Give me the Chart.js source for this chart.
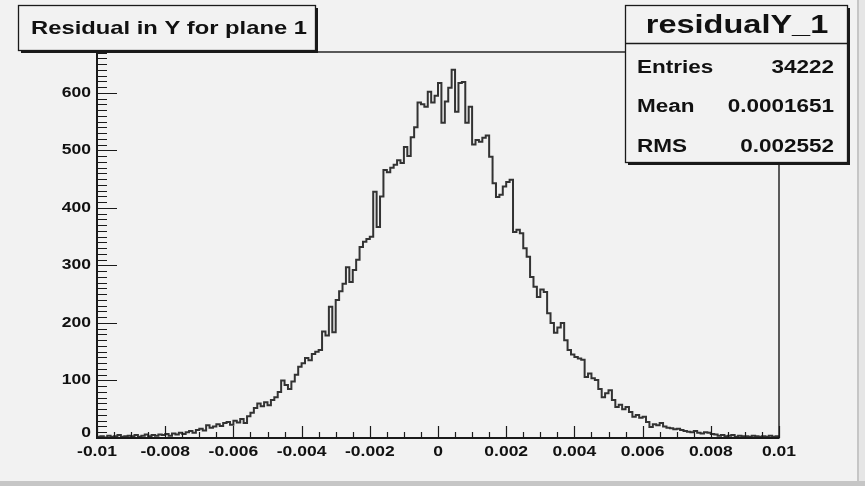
<!DOCTYPE html>
<html>
<head>
<meta charset="utf-8">
<script src="https://cdn.jsdelivr.net/npm/chart.js@4.4.1/dist/chart.umd.min.js"></script>
<style>
  html, body { margin: 0; padding: 0; background: #f2f2f2; }
  #wrap { width: 865px; height: 486px; }
  canvas { display: block; }
</style>
</head>
<body>
<div id="wrap"><canvas id="residual-y"></canvas></div>
<script>
// 200 bins between -0.01 and 0.01
const binCounts = [
  2, 3, 1, 4, 2, 3, 5, 2, 3, 4,
  3, 5, 2, 4, 6, 3, 5, 4, 6, 5,
  7, 4, 8, 6, 9, 7, 10, 12, 9, 14,
  16, 13, 22, 18, 20, 24, 21, 26, 28, 23,
  30, 27, 33, 26, 38, 44, 52, 60, 55, 62,
  57, 66, 71, 80, 100, 92, 85, 98, 110, 124,
  130, 139, 135, 146, 150, 153, 185, 178, 228, 184,
  240, 255, 268, 297, 271, 292, 310, 332, 341, 346,
  350, 428, 367, 420, 466, 462, 470, 475, 483, 478,
  506, 490, 523, 540, 583, 580, 576, 602, 583, 595,
  617, 548, 585, 609, 640, 567, 617, 619, 548, 576,
  510, 518, 515, 522, 526, 489, 443, 419, 423, 437,
  445, 449, 358, 362, 356, 330, 315, 280, 263, 245,
  258, 254, 217, 200, 183, 192, 200, 170, 153, 145,
  141, 138, 136, 106, 112, 104, 101, 85, 71, 78,
  83, 66, 54, 58, 50, 54, 45, 37, 40, 35,
  37, 28, 19, 24, 22, 26, 20, 18, 17, 15,
  16, 14, 12, 11, 10, 12, 9, 8, 10, 9,
  7, 6, 4, 5, 3, 4, 5, 2, 4, 3,
  3, 2, 4, 3, 2, 3, 2, 4, 2, 3
];
const xRange = [-0.01, 0.01];
const yMax = 671;

const xTickValues = [-0.01, -0.008, -0.006, -0.004, -0.002, 0, 0.002, 0.004, 0.006, 0.008, 0.01];
const xTickLabels = ['-0.01', '-0.008', '-0.006', '-0.004', '-0.002', '0', '0.002', '0.004', '0.006', '0.008', '0.01'];
const yTickValues = [0, 100, 200, 300, 400, 500, 600];
const yTickLabels = ['0', '100', '200', '300', '400', '500', '600'];

const histTitle = 'Residual in Y for plane 1';
const statsName = 'residualY_1';
const statsLabels = ['Entries', 'Mean', 'RMS'];
const statsValues = ['34222', '0.0001651', '0.002552'];

// left bin edges, plus the upper edge so the last bin gets its full width
const binWidth = (xRange[1] - xRange[0]) / binCounts.length;
const histPoints = binCounts.map((c, i) => ({ x: xRange[0] + i * binWidth, y: c }));
histPoints.push({ x: xRange[1], y: binCounts[binCounts.length - 1] });

const FONT = '"Liberation Sans", Arial, sans-serif';
const SX = 1.25; // canvas was stretched sideways

function stretchedText(ctx, text, x, y, size, align) {
  ctx.save();
  ctx.translate(x, y);
  ctx.scale(SX, 1);
  ctx.font = 'bold ' + size + 'px ' + FONT;
  ctx.textAlign = align;
  ctx.textBaseline = 'middle';
  ctx.fillStyle = '#111';
  ctx.fillText(text, 0, 0);
  ctx.restore();
}

function shadowBox(ctx, x, y, w, h) {
  ctx.fillStyle = '#1a1a1a';
  ctx.fillRect(x + 3, y + 3, w, h);
  ctx.fillStyle = '#f2f2f2';
  ctx.fillRect(x, y, w, h);
  ctx.strokeStyle = '#1a1a1a';
  ctx.lineWidth = 1.3;
  ctx.strokeRect(x + 0.5, y + 0.5, w, h);
}

const rootStyle = {
  id: 'rootStyle',
  beforeDraw(chart) {
    const ctx = chart.ctx;
    ctx.save();
    ctx.fillStyle = '#f2f2f2';
    ctx.fillRect(0, 0, chart.width, chart.height);
    // window bevel
    ctx.fillStyle = '#c6c6c6';
    ctx.fillRect(857, 0, 2, 482);
    ctx.fillRect(0, 481, 865, 5);
    ctx.fillStyle = '#e6e6e6';
    ctx.fillRect(859, 0, 6, 481);
    ctx.restore();
  },
  afterDatasetsDraw(chart) {
    const ctx = chart.ctx;
    const a = chart.chartArea;
    const xs = chart.scales.x, ys = chart.scales.y;
    ctx.save();

    // frame
    ctx.strokeStyle = '#1a1a1a';
    ctx.lineWidth = 1.4;
    ctx.strokeRect(a.left, a.top, a.right - a.left, a.bottom - a.top);
    ctx.lineWidth = 2;
    ctx.beginPath();
    ctx.moveTo(a.left, a.top);
    ctx.lineTo(a.left, a.bottom);
    ctx.lineTo(a.right, a.bottom);
    ctx.stroke();

    // x ticks, pointing into the frame
    ctx.lineWidth = 1.2;
    ctx.beginPath();
    for (let v = xRange[0]; v <= xRange[1] + 1e-9; v += 0.0005) {
      const px = Math.round(xs.getPixelForValue(v)) + 0.5;
      const major = Math.abs(v / 0.002 - Math.round(v / 0.002)) < 1e-6;
      ctx.moveTo(px, a.bottom);
      ctx.lineTo(px, a.bottom - (major ? 12 : 6));
    }
    // y ticks
    for (let v = 0; v <= yMax; v += 10) {
      const py = Math.round(ys.getPixelForValue(v)) + 0.5;
      ctx.moveTo(a.left, py);
      ctx.lineTo(a.left + (v % 100 === 0 ? 20 : 10), py);
    }
    ctx.stroke();

    xTickValues.forEach((v, i) => {
      stretchedText(ctx, xTickLabels[i], xs.getPixelForValue(v), a.bottom + 14, 14, 'center');
    });
    yTickValues.forEach((v, i) => {
      const py = ys.getPixelForValue(v) - (v === 0 ? 5 : 0);
      stretchedText(ctx, yTickLabels[i], a.left - 6, py, 14, 'right');
    });

    // title box
    shadowBox(ctx, 18, 5, 297, 45);
    stretchedText(ctx, histTitle, 169, 29, 19, 'center');

    // statistics box
    shadowBox(ctx, 625, 5, 222, 157);
    ctx.beginPath();
    ctx.moveTo(625, 43.5);
    ctx.lineTo(847, 43.5);
    ctx.stroke();
    stretchedText(ctx, statsName, 737, 26, 26, 'center');
    statsLabels.forEach((label, i) => {
      const py = 68 + i * 39.5;
      stretchedText(ctx, label, 637, py, 18, 'left');
      stretchedText(ctx, statsValues[i], 834, py, 18, 'right');
    });

    ctx.restore();
  }
};

new Chart(document.getElementById('residual-y'), {
  type: 'line',
  plugins: [rootStyle],
  data: {
    datasets: [{
      label: statsName,
      data: histPoints,
      stepped: true,
      borderColor: '#333333',
      borderWidth: 2,
      pointRadius: 0,
      fill: false,
      tension: 0
    }]
  },
  options: {
    responsive: true,
    maintainAspectRatio: false,
    animation: false,
    layout: { padding: { left: 97, right: 86, top: 52, bottom: 48 } },
    plugins: {
      legend: { display: false },
      tooltip: { enabled: false },
      title: { display: false }
    },
    scales: {
      x: { type: 'linear', min: xRange[0], max: xRange[1], display: false },
      y: { min: 0, max: yMax, display: false }
    }
  }
});
</script>
</body>
</html>
